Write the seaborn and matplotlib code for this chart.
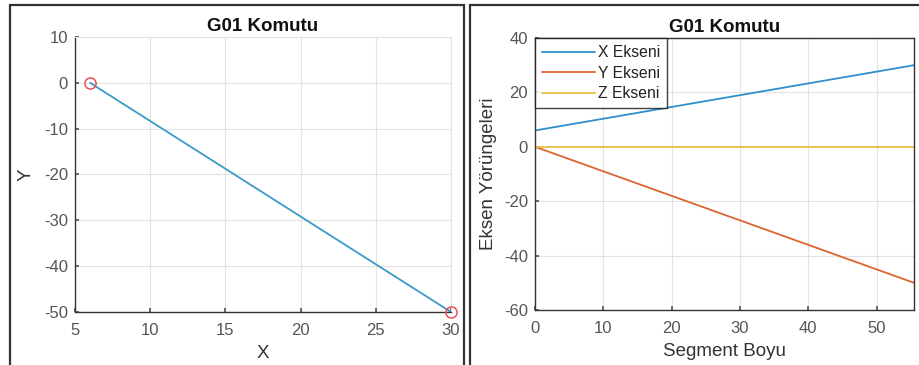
import matplotlib
matplotlib.use("Agg")
import matplotlib.pyplot as plt
import seaborn as sns
import pandas as pd
from matplotlib.patches import Rectangle

sns.set_theme(style="whitegrid")
plt.rcParams['font.family'] = ['Liberation Sans', 'DejaVu Sans']
plt.rcParams['axes.unicode_minus'] = False

# ---- data ----
path_x = [6, 30]
path_y = [0, -50]
seg_len = [0, 55.46]
x_ekseni = [6, 30]
y_ekseni = [0, -50]
z_ekseni = [0, 0]
series_names = ["X Ekseni", "Y Ekseni", "Z Ekseni"]
left_xticks = [5, 10, 15, 20, 25, 30]
left_yticks = [10, 0, -10, -20, -30, -40, -50]
right_xticks = [0, 10, 20, 30, 40, 50]
right_yticks = [40, 20, 0, -20, -40, -60]

colors = ["#2f8fcc", "#dc6430", "#ebc043"]
tick_col = "#555555"
grid_col = "#e3e3e3"

fig = plt.figure(figsize=(9.2, 3.65), dpi=100)

# panel frames
fig.patches.append(Rectangle((10/920, -0.01), (464-10)/920, (365-5)/365 + 0.01,
                             transform=fig.transFigure, fill=False, ec="#333333", lw=1.6))
fig.patches.append(Rectangle((470/920, -0.01), 0.6, (365-5)/365 + 0.01,
                             transform=fig.transFigure, fill=False, ec="#333333", lw=1.6))

def style_axes(ax, dark_box):
    ax.set_facecolor("white")
    ax.grid(True, color=grid_col, lw=0.8)
    for side in ["left", "bottom"]:
        ax.spines[side].set_color("#333333")
        ax.spines[side].set_linewidth(1.0)
    for side in ["top", "right"]:
        ax.spines[side].set_color("#333333" if dark_box else grid_col)
        ax.spines[side].set_linewidth(1.0 if dark_box else 0.8)
    ax.tick_params(direction="in", length=3, colors=tick_col, labelsize=12,
                   labelcolor=tick_col, left=True, bottom=True)
    ax.tick_params(axis="x", pad=8)
    ax.tick_params(axis="y", pad=5)

# ---- left panel ----
ax1 = fig.add_axes([75/920, (365-312)/365, (451-75)/920, (312-37)/365])
sns.lineplot(x=path_x, y=path_y, ax=ax1, color="#3a9ac9", lw=1.3, sort=False)
sns.lineplot(x=path_x, y=path_y, ax=ax1, linestyle="", marker="o",
             markersize=8, markerfacecolor="none", markeredgecolor="#e8505b",
             markeredgewidth=1.1, sort=False, clip_on=False, zorder=5)
ax1.set_xlim(5, 30)
ax1.set_ylim(-50, 10)
ax1.set_xticks(left_xticks)
ax1.set_yticks(left_yticks)
style_axes(ax1, dark_box=False)
ax1.set_title("G01 Komutu", fontsize=13.5, fontweight="bold", color="#111111", pad=4)
ax1.set_xlabel("X", fontsize=13.5, color="#333333", labelpad=5)
ax1.set_ylabel("Y", fontsize=13.5, color="#333333", labelpad=7)

# ---- right panel ----
df = pd.DataFrame({
    "Segment Boyu": seg_len * 3,
    "Deger": x_ekseni + y_ekseni + z_ekseni,
    "Eksen": [series_names[0]] * 2 + [series_names[1]] * 2 + [series_names[2]] * 2,
})
ax2 = fig.add_axes([535/920, (365-310)/365, (914-535)/920, (310-38)/365])
sns.lineplot(data=df, x="Segment Boyu", y="Deger", hue="Eksen", ax=ax2,
             palette=colors, lw=1.3, sort=False)
ax2.set_xlim(0, 55.46)
ax2.set_ylim(-60, 40)
ax2.set_xticks(right_xticks)
ax2.set_yticks(right_yticks)
style_axes(ax2, dark_box=True)
ax2.set_title("G01 Komutu", fontsize=13.5, fontweight="bold", color="#111111", pad=4)
ax2.set_xlabel("Segment Boyu", fontsize=13.5, color="#333333", labelpad=5)
ax2.set_ylabel("Eksen Yörüngeleri", fontsize=13.5, color="#333333", labelpad=5)
leg = ax2.legend(loc="upper left", borderaxespad=0, frameon=True, fancybox=False,
                 edgecolor="#111111", fontsize=11.3, handlelength=3.4,
                 handletextpad=0.15, labelspacing=0.35, borderpad=0.45, title=None)
leg.get_frame().set_linewidth(1.0)
for t in leg.get_texts():
    t.set_color("#222222")

fig.savefig("out.png", dpi=100)
